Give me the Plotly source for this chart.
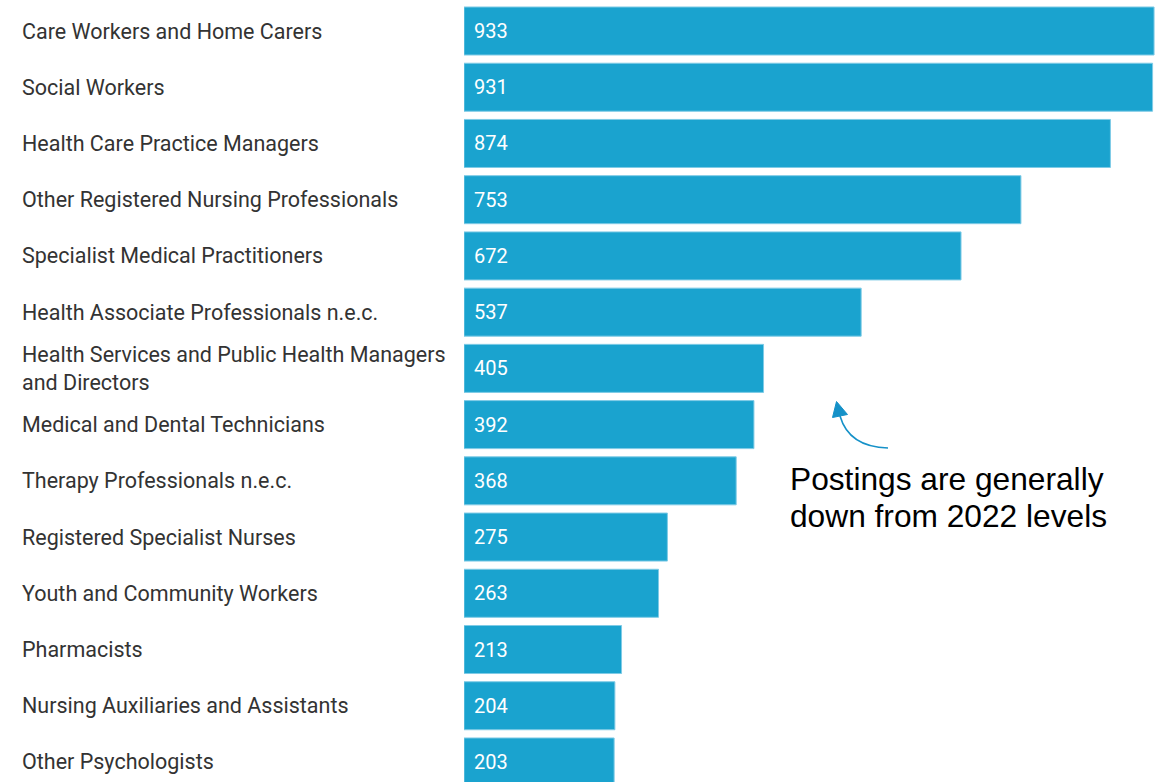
import plotly.graph_objects as go

# Job postings by occupation
occupations = [
    "Care Workers and Home Carers",
    "Social Workers",
    "Health Care Practice Managers",
    "Other Registered Nursing Professionals",
    "Specialist Medical Practitioners",
    "Health Associate Professionals n.e.c.",
    "Health Services and Public Health Managers<br>and Directors",
    "Medical and Dental Technicians",
    "Therapy Professionals n.e.c.",
    "Registered Specialist Nurses",
    "Youth and Community Workers",
    "Pharmacists",
    "Nursing Auxiliaries and Assistants",
    "Other Psychologists",
]
postings = [933, 931, 874, 753, 672, 537, 405, 392, 368, 275, 263, 213, 204, 203]

note_lines = ["Postings are generally", "down from 2022 levels"]

BAR_COLOR = "#1aa3cf"
ARROW_COLOR = "#1591c8"
W, H = 1169, 782
L = 464

rows = list(range(len(occupations)))

fig = go.Figure(
    go.Bar(
        x=postings,
        y=rows,
        orientation="h",
        width=0.854,
        marker=dict(color=BAR_COLOR, line=dict(color="#7fcbe6", width=1)),
        hoverinfo="skip",
    )
)

annotations = []
for i, (name, v) in enumerate(zip(occupations, postings)):
    annotations.append(dict(
        x=-(L - 20) / (W - L), xref="paper", y=i, yref="y",
        text=name, showarrow=False, xanchor="left", yanchor="middle", align="left",
        font=dict(family="Roboto", size=21.5, color="#333333"),
    ))
    annotations.append(dict(
        x=0, xref="x", y=i, yref="y", xshift=8,
        text=str(v), showarrow=False, xanchor="left", yanchor="middle",
        font=dict(family="Roboto", size=20, color="white"),
    ))


def pxp(x, y):
    """Pixel position on the page -> paper coordinates."""
    return (x - L) / (W - L), 1 - y / H


# callout text
for j, line in enumerate(note_lines):
    px_, py_ = pxp(788, 479 + 37 * j)
    annotations.append(dict(
        x=px_, y=py_, xref="paper", yref="paper", text=line, showarrow=False,
        xanchor="left", yanchor="middle",
        font=dict(family="Liberation Sans", size=31.7, color="black"),
    ))

# curved arrow pointing at the bars
t = pxp(888, 448)
c = pxp(849, 447)
e = pxp(840, 416)
tip = pxp(836.5, 401.5)
b1 = pxp(832.5, 417.5)
b2 = pxp(847.5, 414.5)
shapes = [
    dict(type="path", xref="paper", yref="paper",
         path=f"M {t[0]},{t[1]} Q {c[0]},{c[1]} {e[0]},{e[1]}",
         line=dict(color=ARROW_COLOR, width=1.6)),
    dict(type="path", xref="paper", yref="paper",
         path=f"M {tip[0]},{tip[1]} L {b1[0]},{b1[1]} L {b2[0]},{b2[1]} Z",
         fillcolor=ARROW_COLOR, line=dict(color=ARROW_COLOR, width=1)),
]

fig.update_layout(
    width=W, height=H,
    margin=dict(l=L, r=0, t=0, b=0),
    plot_bgcolor="white", paper_bgcolor="white",
    showlegend=False,
    xaxis=dict(range=[0, 953.2], visible=False, fixedrange=True),
    yaxis=dict(range=[13.356, -0.5513], visible=False, fixedrange=True),
    annotations=annotations,
    shapes=shapes,
)

fig.write_html("out.html")
